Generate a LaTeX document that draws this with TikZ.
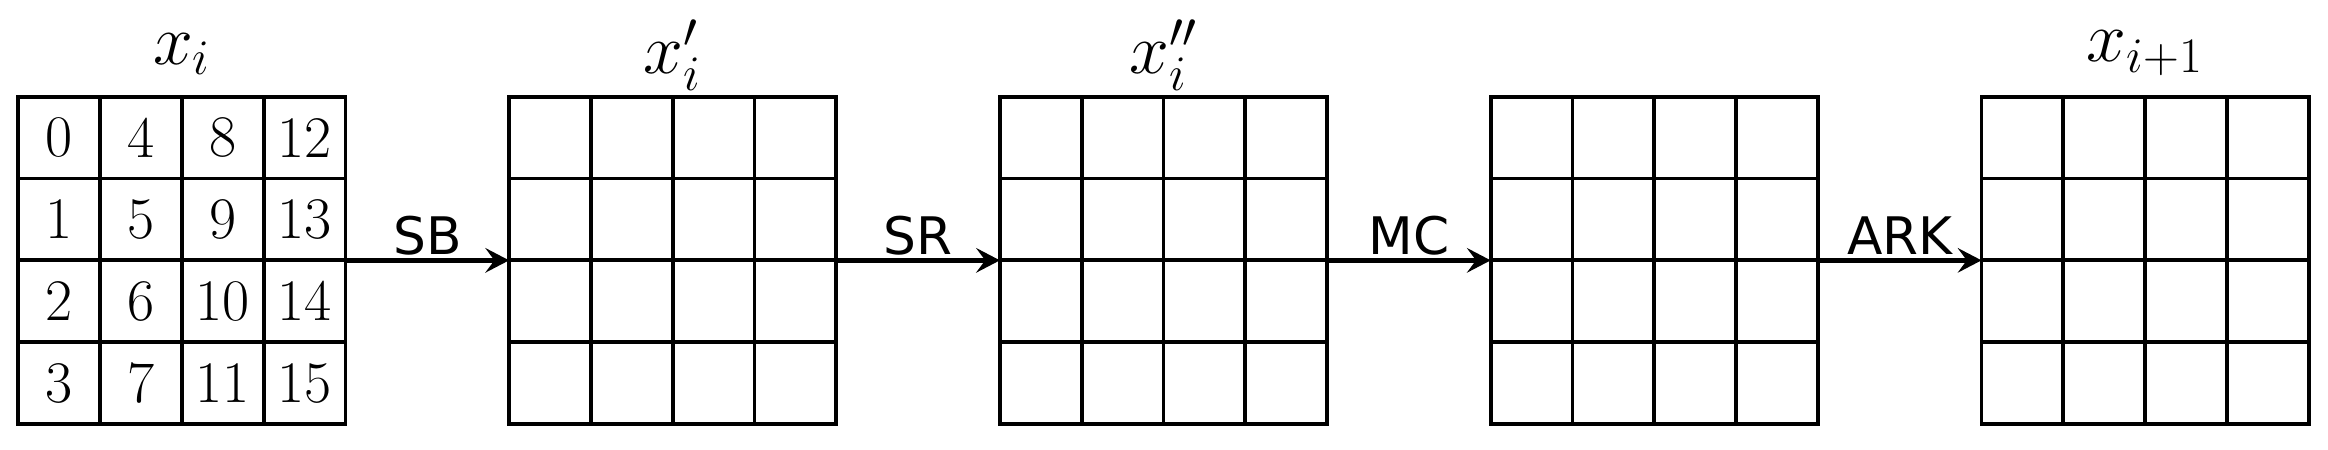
\documentclass[tikz,border=0pt]{standalone}
\usepackage{fontspec}
\newfontfamily\dejavu{DejaVu Sans}
\usetikzlibrary{arrows.meta}
\tikzset{
  gridbox/.style={minimum width=4cm, minimum height=4cm, inner sep=0pt, outer sep=0pt},
  gridline/.style={line width=1.3pt, line cap=rect},
  num/.style={inner sep=0pt, font=\fontsize{20.5}{22}\selectfont},
  statelab/.style={anchor=base, inner sep=0pt, font=\fontsize{25}{27}\selectfont},
  oplab/.style={anchor=base, inner sep=0pt, yshift=0.066cm, font=\dejavu\fontsize{18}{20}\selectfont},
  arr/.style={line width=1.8pt, -{Stealth[length=0.29cm, width=0.30cm, inset=0.11cm]}}
}
\begin{document}
\begin{tikzpicture}
\useasboundingbox (-0.224,-0.318) rectangle (28.236,5.183);
\foreach \k in {1,...,5}{
  \node[gridbox] (g\k) at ({2+6*(\k-1)},2) {};
  \draw[gridline] (g\k.south west) grid (g\k.north east);
}
\foreach \c in {0,...,3}{
  \foreach \r in {0,...,3}{
    \pgfmathtruncatemacro{\v}{4*\c+\r}
    \node[num] (n\v) at (0.5+\c,3.5-\r) {\v};
  }
}
\node[statelab] (l1) at ([yshift=0.40cm]g1.north) {$x_i$};
\node[statelab] (l2) at ([yshift=0.29cm]g2.north) {$x'_i$};
\node[statelab] (l3) at ([yshift=0.29cm]g3.north) {$x''_i$};
\node[statelab] (l5) at ([yshift=0.43cm]g5.north) {$x_{i+1}$};
\draw[arr] (g1.east) -- node[oplab] (o1) {SB} (g2.west);
\draw[arr] (g2.east) -- node[oplab] (o2) {SR} (g3.west);
\draw[arr] (g3.east) -- node[oplab] (o3) {MC} (g4.west);
\draw[arr] (g4.east) -- node[oplab] (o4) {ARK} (g5.west);
\end{tikzpicture}
\end{document}
